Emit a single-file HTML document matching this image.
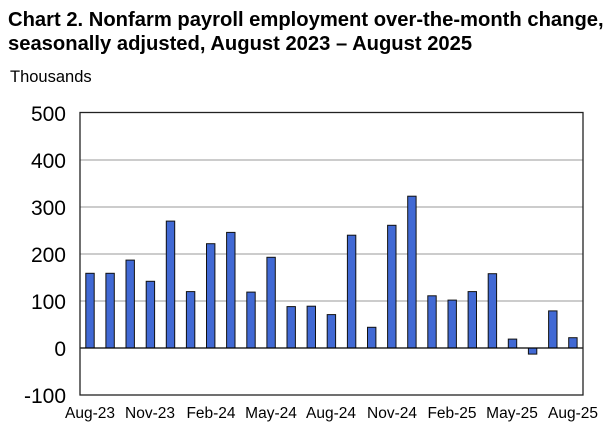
<!DOCTYPE html>
<html><head><style>
body{margin:0;background:#fff;width:615px;height:440px;overflow:hidden;font-family:"Liberation Sans",Arial,sans-serif;}
</style></head><body>
<svg width="615" height="440" xmlns="http://www.w3.org/2000/svg" font-family="Liberation Sans, Arial, sans-serif">
<text x="8" y="26" font-size="20.2" font-weight="bold">Chart 2. Nonfarm payroll employment over-the-month change,</text>
<text x="8" y="50" font-size="20.2" font-weight="bold">seasonally adjusted, August 2023 – August 2025</text>
<text x="10" y="82" font-size="16.5">Thousands</text>
<g stroke="#999" stroke-width="1">
<line x1="80" x2="583" y1="160" y2="160"/><line x1="80" x2="583" y1="207" y2="207"/>
<line x1="80" x2="583" y1="254" y2="254"/><line x1="80" x2="583" y1="301" y2="301"/>
</g>
<g font-size="21" text-anchor="end">
<text x="66" y="121">500</text><text x="66" y="168">400</text><text x="66" y="215">300</text>
<text x="66" y="262">200</text><text x="66" y="309">100</text><text x="66" y="356">0</text><text x="66" y="403">-100</text>
</g>
<g fill="#4169d4" stroke="#111" stroke-width="1">
<rect x="85.8" y="273.3" width="8.4" height="74.7"/>
<rect x="105.9" y="273.3" width="8.4" height="74.7"/>
<rect x="126.0" y="260.1" width="8.4" height="87.9"/>
<rect x="146.2" y="281.3" width="8.4" height="66.7"/>
<rect x="166.3" y="221.1" width="8.4" height="126.9"/>
<rect x="186.4" y="291.6" width="8.4" height="56.4"/>
<rect x="206.5" y="243.7" width="8.4" height="104.3"/>
<rect x="226.6" y="232.4" width="8.4" height="115.6"/>
<rect x="246.8" y="292.1" width="8.4" height="55.9"/>
<rect x="266.9" y="257.3" width="8.4" height="90.7"/>
<rect x="287.0" y="306.6" width="8.4" height="41.4"/>
<rect x="307.1" y="306.2" width="8.4" height="41.8"/>
<rect x="327.2" y="314.6" width="8.4" height="33.4"/>
<rect x="347.4" y="235.2" width="8.4" height="112.8"/>
<rect x="367.5" y="327.3" width="8.4" height="20.7"/>
<rect x="387.6" y="225.3" width="8.4" height="122.7"/>
<rect x="407.7" y="196.2" width="8.4" height="151.8"/>
<rect x="427.8" y="295.8" width="8.4" height="52.2"/>
<rect x="448.0" y="300.1" width="8.4" height="47.9"/>
<rect x="468.1" y="291.6" width="8.4" height="56.4"/>
<rect x="488.2" y="273.7" width="8.4" height="74.3"/>
<rect x="508.3" y="339.1" width="8.4" height="8.9"/>
<rect x="528.4" y="348" width="8.4" height="6.1"/>
<rect x="548.6" y="310.9" width="8.4" height="37.1"/>
<rect x="568.7" y="337.7" width="8.4" height="10.3"/>
</g>
<line x1="80" x2="583" y1="348" y2="348" stroke="#000" stroke-width="1.3"/>
<rect x="80" y="112.5" width="503" height="282.5" fill="none" stroke="#222" stroke-width="1.3"/>
<g font-size="15.5" text-anchor="middle">
<text x="90" y="418">Aug-23</text><text x="150" y="418">Nov-23</text><text x="211" y="418">Feb-24</text>
<text x="271" y="418">May-24</text><text x="331" y="418">Aug-24</text><text x="392" y="418">Nov-24</text>
<text x="452" y="418">Feb-25</text><text x="512" y="418">May-25</text><text x="573" y="418">Aug-25</text>
</g>
</svg>
</body></html>
